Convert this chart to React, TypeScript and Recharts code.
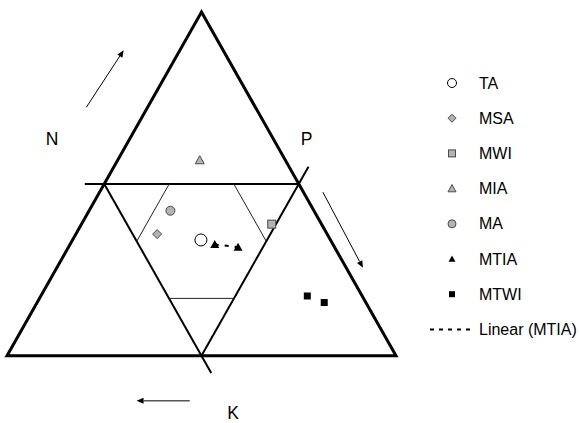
import React from 'react';
import { ReferenceDot, ReferenceLine, Scatter, ScatterChart, XAxis, YAxis } from 'recharts';

// ternary compositions, each point is [N, P, K] in %
const TA = [[33.7, 33.0, 33.3]];
const MSA = [[35.4, 20.9, 43.7]];
const MWI = [[38.3, 48.9, 12.8]];
const MIA = [[56.9, 21.1, 22.0]];
const MA = [[42.2, 20.9, 36.9]];
const MTIA = [
  [32.4, 37.2, 30.4],
  [31.6, 43.6, 24.8],
];
const MTWI = [
  [17.4, 68.5, 14.1],
  [15.5, 73.8, 10.7],
];

// frame of the diagram, same [N, P, K] form
const OUTER = [
  [0, 50, 50],
  [0, 100, 0],
  [100, 0, 0],
  [0, 0, 100],
  [0, 50, 50],
];
const HALF_LINES = [
  [[50, -5, 55], [50, 50, 0]],
  [[50, 0, 50], [-5, 55, 50]],
  [[0, 50, 50], [55, 50, -5]],
];
const THIRD_LINES = [
  [[50, 16.7, 33.3], [33.3, 16.7, 50]],
  [[50, 33.3, 16.7], [33.3, 50, 16.7]],
  [[16.7, 33.3, 50], [16.7, 50, 33.3]],
];

const AXIS_NAMES = ['N', 'P', 'K'];
const LINEAR_NAME = 'Linear (MTIA)';

const FONT = '"Liberation Sans", Arial, Helvetica, sans-serif';
const GREY = '#b3b3b3';
const EDGE = '#4a4a4a';

// x runs from K corner (0) to P corner (100), y is N
const toXY = (pt: number[]) => ({ x: pt[1] + pt[0] / 2, y: pt[0] });

// annotation positions in chart units
const ARROWS = [
  [{ x: 20.4, y: 72.3 }, { x: 30.0, y: 88.9 }],
  [{ x: 81.2, y: 47.6 }, { x: 91.5, y: 25.6 }],
  [{ x: 47.0, y: -13.1 }, { x: 33.3, y: -13.1 }],
];
const NAME_POS = [
  { x: 11.6, y: 63.2 },
  { x: 77.0, y: 63.2 },
  { x: 58.1, y: -16.6 },
];

type Kind = 'openCircle' | 'diamond' | 'square' | 'triangle' | 'circle' | 'blackTriangle' | 'blackSquare';

const SERIES: { name: string; points: number[][]; kind: Kind; size: number; legendSize: number }[] = [
  { name: 'TA', points: TA, kind: 'openCircle', size: 12, legendSize: 9 },
  { name: 'MSA', points: MSA, kind: 'diamond', size: 9, legendSize: 8 },
  { name: 'MWI', points: MWI, kind: 'square', size: 8, legendSize: 7 },
  { name: 'MIA', points: MIA, kind: 'triangle', size: 9, legendSize: 8 },
  { name: 'MA', points: MA, kind: 'circle', size: 9, legendSize: 8 },
  { name: 'MTIA', points: MTIA, kind: 'blackTriangle', size: 9, legendSize: 7 },
  { name: 'MTWI', points: MTWI, kind: 'blackSquare', size: 7, legendSize: 6 },
];

function Marker({ kind, cx, cy, s }: { kind: Kind; cx: number; cy: number; s: number }) {
  const h = s / 2;
  const tri = `${cx},${cy - h} ${cx + h},${cy + h * 0.8} ${cx - h},${cy + h * 0.8}`;
  switch (kind) {
    case 'openCircle':
      return <circle cx={cx} cy={cy} r={h} fill="#fff" stroke="#000" strokeWidth={1} />;
    case 'circle':
      return <circle cx={cx} cy={cy} r={h} fill={GREY} stroke={EDGE} strokeWidth={1} />;
    case 'diamond':
      return (
        <polygon
          points={`${cx},${cy - h} ${cx + h},${cy} ${cx},${cy + h} ${cx - h},${cy}`}
          fill={GREY}
          stroke={EDGE}
          strokeWidth={1}
        />
      );
    case 'square':
      return <rect x={cx - h} y={cy - h} width={s} height={s} fill={GREY} stroke={EDGE} strokeWidth={1} />;
    case 'triangle':
      return <polygon points={tri} fill={GREY} stroke={EDGE} strokeWidth={1} />;
    case 'blackTriangle':
      return <polygon points={tri} fill="#000" />;
    case 'blackSquare':
      return <rect x={cx - h} y={cy - h} width={s} height={s} fill="#000" />;
  }
  return null;
}

const noDot = () => <g />;

function Arrow(props: any) {
  const { x1, y1, x2, y2 } = props;
  const len = Math.hypot(x2 - x1, y2 - y1) || 1;
  const ux = (x2 - x1) / len;
  const uy = (y2 - y1) / len;
  const bx = x2 - ux * 7;
  const by = y2 - uy * 7;
  return (
    <g>
      <line x1={x1} y1={y1} x2={bx} y2={by} stroke="#000" strokeWidth={1} />
      <polygon points={`${x2},${y2} ${bx - uy * 3},${by + ux * 3} ${bx + uy * 3},${by - ux * 3}`} fill="#000" />
    </g>
  );
}

function Legend() {
  const rowY = (i: number) => 83 + 35.2 * i;
  return (
    <svg width={580} height={423} style={{ position: 'absolute', left: 0, top: 0 }}>
      {SERIES.map((s, i) => (
        <g key={s.name}>
          <Marker kind={s.kind} cx={452} cy={rowY(i)} s={s.legendSize} />
          <text x={479} y={rowY(i)} dominantBaseline="central" fontSize={16} fontFamily={FONT} fill="#000">
            {s.name}
          </text>
        </g>
      ))}
      <line
        x1={430}
        y1={rowY(7)}
        x2={475}
        y2={rowY(7)}
        stroke="#000"
        strokeWidth={2}
        strokeDasharray="4 5"
      />
      <text x={479} y={rowY(7)} dominantBaseline="central" fontSize={16} fontFamily={FONT} fill="#000">
        {LINEAR_NAME}
      </text>
    </svg>
  );
}

export default function App() {
  return (
    <div style={{ position: 'absolute', left: 0, top: 0, width: 580, height: 423, background: '#fff' }}>
      <ScatterChart width={580} height={423} margin={{ top: 12, right: 184, bottom: 50, left: 7 }}>
        <XAxis type="number" dataKey="x" domain={[0, 100]} hide />
        <YAxis type="number" dataKey="y" domain={[-5, 100]} hide />

        <Scatter
          data={OUTER.map(toXY)}
          line={{ stroke: '#000', strokeWidth: 3 }}
          shape={noDot}
          isAnimationActive={false}
        />
        {HALF_LINES.map((seg, i) => (
          <Scatter
            key={`half-${i}`}
            data={seg.map(toXY)}
            line={{ stroke: '#000', strokeWidth: 2 }}
            shape={noDot}
            isAnimationActive={false}
          />
        ))}
        {THIRD_LINES.map((seg, i) => (
          <Scatter
            key={`third-${i}`}
            data={seg.map(toXY)}
            line={{ stroke: '#222', strokeWidth: 1 }}
            shape={noDot}
            isAnimationActive={false}
          />
        ))}

        {ARROWS.map((seg, i) => (
          <ReferenceLine key={`arrow-${i}`} segment={seg} ifOverflow="visible" shape={Arrow} />
        ))}
        {AXIS_NAMES.map((name, i) => (
          <ReferenceDot
            key={name}
            x={NAME_POS[i].x}
            y={NAME_POS[i].y}
            r={0}
            ifOverflow="visible"
            shape={(p: any) => (
              <text
                x={p.cx}
                y={p.cy}
                textAnchor="middle"
                dominantBaseline="central"
                fontSize={17.5}
                fontFamily={FONT}
                fill="#000"
              >
                {name}
              </text>
            )}
          />
        ))}

        {SERIES.map((s) => (
          <Scatter
            key={s.name}
            name={s.name}
            data={s.points.map(toXY)}
            line={
              s.name === 'MTIA'
                ? { stroke: '#000', strokeWidth: 2, strokeDasharray: '4 6' }
                : false
            }
            shape={(p: any) => <Marker kind={s.kind} cx={p.cx} cy={p.cy} s={s.size} />}
            isAnimationActive={false}
          />
        ))}
      </ScatterChart>
      <Legend />
    </div>
  );
}
